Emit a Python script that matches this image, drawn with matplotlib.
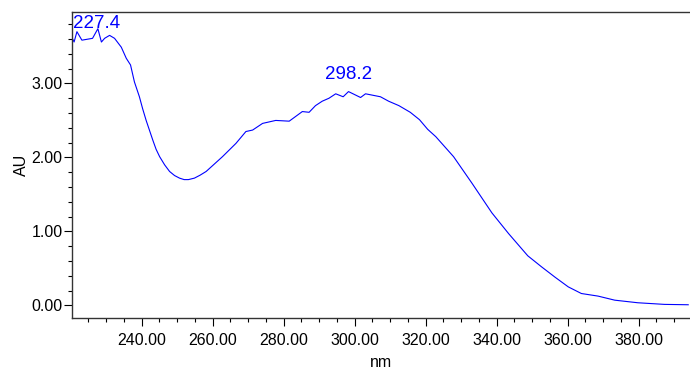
import matplotlib
matplotlib.use("Agg")
import matplotlib.pyplot as plt
from matplotlib.ticker import MultipleLocator, FormatStrFormatter

# spectrum
wavelength = [220.5, 221.0, 221.8, 223.2, 226.2, 227.7, 228.7, 229.6, 231.0, 232.4,
              234.3, 235.7, 236.9, 238.0, 239.4, 240.3, 241.3, 243.2, 244.1, 245.1,
              246.5, 247.9, 249.3, 250.7, 252.0, 253.2, 254.9, 256.5, 258.2, 260.5,
              262.8, 266.6, 269.4, 271.3, 274.1, 277.8, 281.6,
              285.3, 287.2, 289.0, 290.9, 292.8, 294.7, 296.8, 298.3, 301.7, 303.1,
              307.3, 309.6, 312.5, 315.7, 318.3, 320.6, 322.9, 327.9, 333.1, 338.7,
              343.4, 348.8, 352.7, 356.5, 360.2, 363.9, 368.6, 373.3, 379.8, 387.3, 394.0]
absorbance = [3.61, 3.56, 3.70, 3.585, 3.61, 3.74, 3.56, 3.61, 3.65, 3.61,
              3.49, 3.34, 3.25, 3.02, 2.82, 2.66, 2.50, 2.23, 2.11, 2.01,
              1.90, 1.81, 1.755, 1.72, 1.70, 1.70, 1.72, 1.76, 1.81, 1.91,
              2.01, 2.19, 2.35, 2.37, 2.46, 2.50, 2.49,
              2.62, 2.61, 2.70, 2.76, 2.80, 2.86, 2.82, 2.89, 2.81, 2.86,
              2.82, 2.76, 2.70, 2.61, 2.51, 2.38, 2.28, 2.01, 1.65, 1.25,
              0.97, 0.67, 0.52, 0.38, 0.25, 0.16, 0.125, 0.07, 0.035, 0.013, 0.008]

peak_labels = ["227.4", "298.2"]
peak_x = [227.4, 298.2]
label_y = [3.69, 3.00]

plt.rcParams["font.family"] = ["Liberation Sans", "DejaVu Sans"]

fig = plt.figure(figsize=(6.9, 3.75), dpi=100)
ax = fig.add_axes([0.1048, 0.1528, 0.8952, 0.816])

ax.plot(wavelength, absorbance, color="#0000ff", linewidth=0.8)

for lbl, px, py in zip(peak_labels, peak_x, label_y):
    ax.text(px, py, lbl, color="#0000ff", fontsize=13.5, ha="center", va="bottom")

ax.set_xlim(220.5, 394.5)
ax.set_ylim(-0.167, 3.97)

ax.xaxis.set_major_locator(MultipleLocator(20))
ax.xaxis.set_minor_locator(MultipleLocator(5))
ax.yaxis.set_major_locator(MultipleLocator(1))
ax.yaxis.set_minor_locator(MultipleLocator(0.2))
ax.xaxis.set_major_formatter(FormatStrFormatter("%.2f"))
ax.yaxis.set_major_formatter(FormatStrFormatter("%.2f"))

ax.tick_params(which="major", length=6, width=0.8, labelsize=11.5, direction="out", pad=1)
ax.tick_params(axis="x", which="major", pad=5)
ax.tick_params(which="minor", length=3, width=0.8, direction="out")
ax.tick_params(top=False, right=False, which="both")

for side in ["left", "bottom", "top"]:
    ax.spines[side].set_color("#333333")
    ax.spines[side].set_linewidth(1.0)
ax.spines["right"].set_visible(False)

ax.set_xlabel("nm", fontsize=11.5, labelpad=5)
ax.set_ylabel("AU", fontsize=11.5, labelpad=2)

fig.savefig("out.png", dpi=100)
